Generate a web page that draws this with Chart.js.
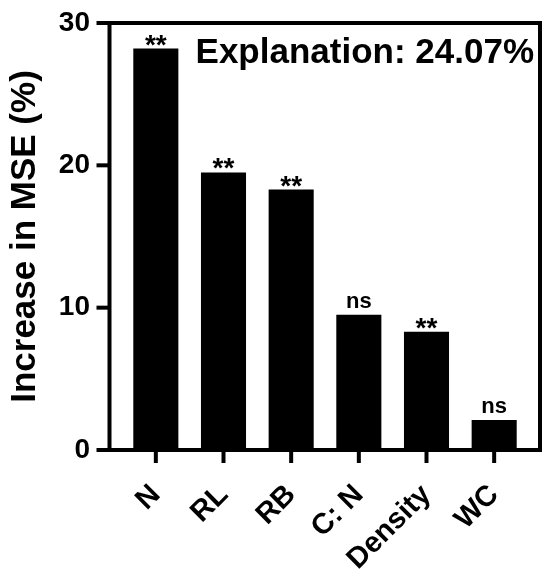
<!DOCTYPE html>
<html>
<head>
<meta charset="utf-8">
<script src="https://cdn.jsdelivr.net/npm/chart.js@4"></script>
<style>
  html, body { margin: 0; padding: 0; background: #fff; }
  #wrap { width: 550px; height: 581px; }
</style>
</head>
<body>
<div id="wrap"><canvas id="chartMSE"></canvas></div>
<script>
// Dados do gráfico
const categorias = ['N', 'RL', 'RB', 'C: N', 'Density', 'WC'];
const aumentoMSE = [28.2, 19.5, 18.3, 9.5, 8.3, 2.1];
const significancia = ['**', '**', '**', 'ns', '**', 'ns'];
const ticksY = [0, 10, 20, 30];
const textoExplicacao = 'Explanation: 24.07%';

const FONTE = "'Liberation Sans', Arial, sans-serif";

// Plugin: desenha a moldura, os traços dos eixos e as anotações
const molduraPlugin = {
    id: 'moldura',
    afterDraw(chart) {
        const ctx = chart.ctx;
        const area = chart.chartArea;
        const x = chart.scales.x;
        const y = chart.scales.y;
        const esq = area.left - 12.5;
        const dir = area.right + 12;
        const topo = y.getPixelForValue(30);
        const base = y.getPixelForValue(0);

        ctx.save();
        ctx.strokeStyle = '#000';
        ctx.lineWidth = 4;
        ctx.lineCap = 'square';
        // moldura
        ctx.beginPath();
        ctx.moveTo(esq, base);
        ctx.lineTo(esq, topo);
        ctx.lineTo(dir, topo);
        ctx.lineTo(dir, base);
        ctx.lineTo(esq, base);
        ctx.stroke();

        ctx.lineCap = 'butt';
        // traços do eixo Y
        ticksY.forEach(v => {
            const py = y.getPixelForValue(v);
            ctx.beginPath();
            ctx.moveTo(esq - 13, py);
            ctx.lineTo(esq, py);
            ctx.stroke();
        });
        // traços do eixo X
        categorias.forEach((c, i) => {
            const px = x.getPixelForValue(i);
            ctx.beginPath();
            ctx.moveTo(px, base);
            ctx.lineTo(px, base + 13);
            ctx.stroke();
        });

        // anotações de significância
        const meta = chart.getDatasetMeta(0);
        ctx.fillStyle = '#000';
        ctx.textAlign = 'center';
        ctx.textBaseline = 'alphabetic';
        meta.data.forEach((bar, i) => {
            const s = significancia[i];
            if (s === 'ns') {
                ctx.font = 'bold 22px ' + FONTE;
                ctx.fillText(s, bar.x, bar.y - 7);
            } else {
                ctx.font = 'bold 28px ' + FONTE;
                ctx.fillText(s, bar.x, bar.y + 5);
            }
        });

        // texto de explicação
        ctx.font = 'bold 35px ' + FONTE;
        ctx.textAlign = 'right';
        ctx.fillText(textoExplicacao, area.right + 6, 63);
        ctx.restore();
    }
};

new Chart(document.getElementById('chartMSE'), {
    type: 'bar',
    data: {
        labels: categorias,
        datasets: [{
            label: 'Increase in MSE (%)',
            data: aumentoMSE,
            backgroundColor: '#000',
            barPercentage: 0.666,
            categoryPercentage: 1.0
        }]
    },
    options: {
        responsive: true,
        maintainAspectRatio: false,
        animation: false,
        layout: { padding: { left: 0, right: 22, top: 23, bottom: 0 } },
        plugins: {
            legend: { display: false },
            tooltip: { enabled: false }
        },
        scales: {
            y: {
                min: 0,
                max: 30,
                border: { display: false },
                grid: { display: false },
                ticks: {
                    stepSize: 10,
                    padding: 24,
                    color: '#000',
                    font: { family: FONTE, size: 28, weight: 'bold' }
                },
                title: {
                    display: true,
                    text: 'Increase in MSE (%)',
                    color: '#000',
                    padding: { top: 4, bottom: 0 },
                    font: { family: FONTE, size: 35, weight: 'bold' }
                },
                afterFit(scale) {
                    scale.width = 122;
                    scale.paddingTop = 0;
                    scale.paddingBottom = 0;
                }
            },
            x: {
                border: { display: false },
                grid: { display: false },
                ticks: {
                    minRotation: 45,
                    maxRotation: 45,
                    padding: 20,
                    color: '#000',
                    font: { family: FONTE, size: 29, weight: 'bold' }
                },
                afterFit(scale) {
                    scale.height = 131;
                    scale.paddingLeft = 0;
                    scale.paddingRight = 0;
                }
            }
        }
    },
    plugins: [molduraPlugin]
});
</script>
</body>
</html>
